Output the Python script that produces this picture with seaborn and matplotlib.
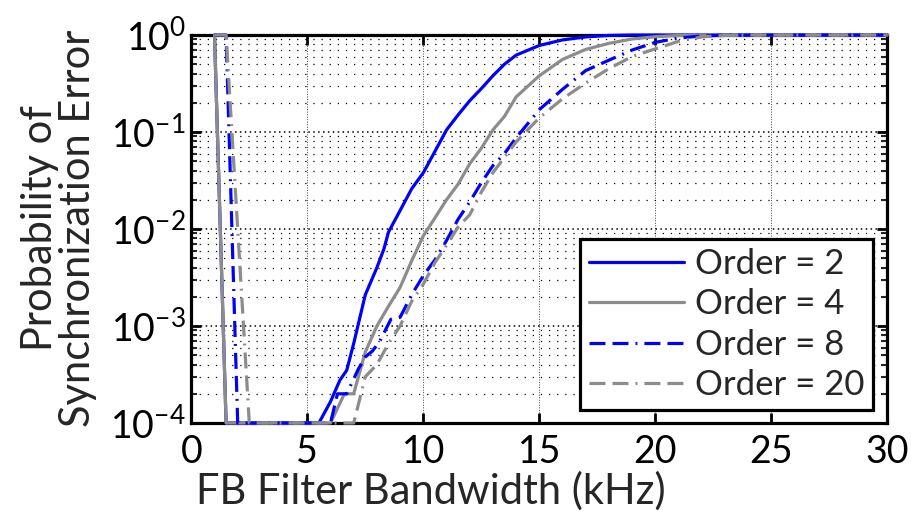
import numpy as np
import pandas as pd
import matplotlib
matplotlib.use("Agg")
import matplotlib.pyplot as plt
import matplotlib.ticker as mticker
import seaborn as sns

# ---- data ----
labels = ["Order = 2", "Order = 4", "Order = 8", "Order = 20"]

bw_order2 = [1, 1.5, 5.5, 6.0, 6.4, 6.7, 7.0, 7.5, 8.0, 8.3, 8.5, 9.0, 9.5, 10.0, 10.5,
             11.0, 11.5, 12.0, 12.5, 13.0, 13.5, 14.0, 15.0, 16.0, 17.0, 18.0, 19.0, 30]
p_order2 = [1, 1e-4, 1e-4, 1.66e-4, 2.75e-4, 3.5e-4, 6.6e-4, 2.1e-3, 4.0e-3, 6.2e-3, 9.3e-3,
            1.55e-2, 2.6e-2, 3.8e-2, 6.3e-2, 0.105, 0.15, 0.21, 0.28, 0.38, 0.50, 0.62,
            0.78, 0.89, 0.955, 0.99, 1, 1]

bw_order4 = [1, 1.5, 6.0, 6.6, 7.0, 7.5, 8.0, 8.5, 9.0, 9.5, 10.0, 10.5, 11.0, 11.5, 12.0,
             12.5, 13.0, 13.5, 14.0, 15.0, 16.0, 17.0, 18.0, 19.0, 20.0, 21.0, 30]
p_order4 = [1, 1e-4, 1e-4, 2e-4, 2e-4, 5.4e-4, 1e-3, 1.6e-3, 2.5e-3, 4.7e-3, 8.5e-3, 1.3e-2,
            2.0e-2, 2.9e-2, 4.7e-2, 6.8e-2, 0.105, 0.145, 0.23, 0.38, 0.56, 0.71, 0.82,
            0.91, 0.96, 0.99, 1]

bw_order8 = [1, 1.5, 2.0, 6.0, 6.3, 6.7, 7.2, 7.5, 7.8, 8.1, 8.6, 9.0, 9.5, 10.0, 10.5, 11.0,
             11.5, 12.0, 12.5, 13.0, 13.5, 14.0, 15.0, 16.0, 17.0, 18.0, 19.0, 20.0, 21.0,
             22.0, 23.0, 30]
p_order8 = [1, 1, 1e-4, 1e-4, 2.0e-4, 2.0e-4, 3.6e-4, 4.8e-4, 5.5e-4, 6.8e-4, 1.17e-3,
            1.23e-3, 2.1e-3, 3.3e-3, 4.8e-3, 7.6e-3, 1.26e-2, 1.9e-2, 3.0e-2, 4.5e-2,
            6.0e-2, 8.7e-2, 0.17, 0.275, 0.43, 0.55, 0.70, 0.84, 0.93, 0.977, 0.995, 1]

bw_order20 = [1, 1.5, 2.5, 7.0, 7.5, 8.0, 8.5, 9.0, 9.5, 10.0, 10.5, 11.0, 11.5, 12.0, 12.5,
              13.0, 13.5, 14.0, 15.0, 16.0, 17.0, 18.0, 19.0, 20.0, 21.0, 22.0, 23.0, 24.0, 30]
p_order20 = [1, 1, 1e-4, 1e-4, 3.0e-4, 4.0e-4, 6.6e-4, 1.0e-3, 1.8e-3, 2.7e-3, 4.5e-3,
             6.8e-3, 1.05e-2, 1.4e-2, 2.4e-2, 3.8e-2, 5.5e-2, 7.9e-2, 0.14, 0.22, 0.32,
             0.45, 0.60, 0.72, 0.86, 0.955, 0.99, 1, 1]

x_ticks = [0, 5, 10, 15, 20, 25, 30]

frames = []
for lab, bw, p in zip(labels,
                      [bw_order2, bw_order4, bw_order8, bw_order20],
                      [p_order2, p_order4, p_order8, p_order20]):
    frames.append(pd.DataFrame({"bw": bw, "p": p, "order": lab}))
df = pd.concat(frames, ignore_index=True)

# ---- style ----
sns.set_style("ticks")
FONT = "Lato"
plt.rcParams["font.family"] = [FONT, "DejaVu Sans"]
plt.rcParams["mathtext.fontset"] = "custom"
plt.rcParams["mathtext.rm"] = FONT
plt.rcParams["mathtext.it"] = FONT + ":italic"
plt.rcParams["mathtext.bf"] = FONT + ":bold"
plt.rcParams["mathtext.default"] = "regular"
plt.rcParams["axes.unicode_minus"] = False

FS_TICK = 27
FS_LAB = 30
FS_LEG = 25
blue = "#0000ff"
gray = "#8c8c8c"
palette = {labels[0]: blue, labels[1]: gray, labels[2]: blue, labels[3]: gray}
dd = (5, 2.2, 5, 2.2, 0.6, 2.2)
dashes = {labels[0]: "", labels[1]: "", labels[2]: dd, labels[3]: dd}

fig = plt.figure(figsize=(9.13, 5.17), dpi=100)
ax = fig.add_axes([191.3 / 913, 1 - 423 / 517, 696 / 913, 388 / 517])

sns.lineplot(data=df, x="bw", y="p", hue="order", style="order", hue_order=labels,
             style_order=labels, palette=palette, dashes=dashes, sort=False,
             estimator=None, linewidth=2.3, ax=ax)

for ln in ax.lines:
    ln.set_clip_on(False)
    ln.set_zorder(3)

ax.set_yscale("log")
ax.set_xlim(0, 30)
ax.set_ylim(1e-4, 1)
ax.set_xticks(x_ticks)
ax.set_xticklabels([str(t) for t in x_ticks])
ax.yaxis.set_major_locator(mticker.LogLocator(base=10, numticks=10))
ax.yaxis.set_minor_locator(mticker.LogLocator(base=10, subs=np.arange(2, 10), numticks=20))
ax.yaxis.set_major_formatter(mticker.LogFormatterSciNotation())
ax.yaxis.set_minor_formatter(mticker.NullFormatter())
ax.xaxis.set_minor_locator(mticker.NullLocator())

ax.tick_params(axis="both", which="major", direction="in", length=7, width=2,
               labelsize=FS_TICK, top=True, right=True, color="k", labelcolor="k")
ax.tick_params(axis="y", which="minor", direction="in", length=4, width=1.5,
               left=True, right=True)
ax.tick_params(axis="x", which="major", pad=8)
ax.tick_params(axis="y", which="major", pad=4)

for s in ax.spines.values():
    s.set_linewidth(2.3)
    s.set_color("k")
    s.set_visible(True)

ax.grid(True, axis="y", which="major", color="k", linestyle=(0, (1, 2.2)), linewidth=1.1)
ax.grid(True, axis="y", which="minor", color="k", linestyle=(0, (1, 5.5)), linewidth=0.9)
ax.grid(True, axis="x", which="major", color="#444444", linestyle=(0, (1, 1.6)), linewidth=0.7)
ax.set_axisbelow(True)

ax.set_xlabel("FB Filter Bandwidth (kHz)", fontsize=FS_LAB)
ax.set_ylabel("Probability of\nSynchronization Error", fontsize=FS_LAB, linespacing=1.0)
ax.xaxis.set_label_coords(0.344, -0.125)
ax.yaxis.set_label_coords(-0.136, 0.503)

old = ax.get_legend()
handles = old.legend_handles
for h in handles:
    h.set_linewidth(2.3)
leg_labels = [t.get_text() for t in old.get_texts()]
old.remove()
leg = ax.legend(handles, leg_labels, loc="lower right", bbox_to_anchor=(0.979, 0.034),
                fontsize=FS_LEG, frameon=True, fancybox=False, framealpha=1,
                edgecolor="k", facecolor="white", handlelength=2.75,
                handletextpad=0.3, labelspacing=0.24, borderpad=0.25,
                borderaxespad=0)
leg.get_frame().set_linewidth(2.3)
leg.set_zorder(5)

fig.savefig("out.png", dpi=100)
